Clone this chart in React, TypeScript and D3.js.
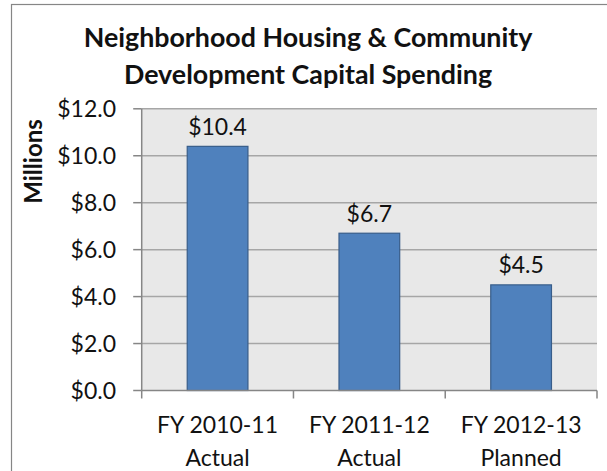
import React from "react";
import * as d3 from "d3";

const categories = ["FY 2010-11|Actual", "FY 2011-12|Actual", "FY 2012-13|Planned"];
const values = [10.4, 6.7, 4.5];
const yTicks = [0, 2, 4, 6, 8, 10, 12];
const titleLines = ["Neighborhood Housing & Community", "Development Capital Spending"];
const yAxisTitle = "Millions";

const W = 607;
const H = 471;
const FONT = "Lato, 'Open Sans', sans-serif";

export default function App() {
  const left = 141.7;
  const right = 597;
  const top = 108.8;
  const bottom = 390.5;

  const x = d3.scaleBand<string>().domain(categories).range([left, right]).paddingInner(0.6).paddingOuter(0.3);
  const y = d3.scaleLinear().domain([0, 12]).range([bottom, top]);
  const fmt = (v: number) => "$" + d3.format(".1f")(v);

  const step = x.step();
  const boundaries = d3.range(categories.length + 1).map((i) => left + i * step);

  return (
    <svg width={W} height={H} style={{ position: "absolute", left: 0, top: 0, background: "#fff" }}>
      <rect x={11.5} y={4.5} width={700} height={600} fill="#fff" stroke="#868686" strokeWidth={1.2} />
      <text textAnchor="middle" fontFamily={FONT} fontWeight="bold" fontSize={26.8} fill="#111">
        {titleLines.map((t, i) => (
          <tspan key={i} x={308} y={47 + i * 37}>{t}</tspan>
        ))}
      </text>
      <rect x={left} y={top} width={right - left} height={bottom - top} fill="#e8e8e8" />
      {yTicks.filter((t) => t > 0).map((t) => (
        <line key={t} x1={left} x2={right} y1={y(t)} y2={y(t)} stroke="#a6a6a6" strokeWidth={1.5} />
      ))}
      {categories.map((c, i) => (
        <rect
          key={c}
          x={x(c)}
          y={y(values[i])}
          width={x.bandwidth()}
          height={y(0) - y(values[i])}
          fill="#4f81bd"
          stroke="#385d8a"
          strokeWidth={1.2}
        />
      ))}
      <line x1={left} x2={left} y1={top} y2={bottom} stroke="#868686" strokeWidth={1.5} />
      <line x1={left} x2={right} y1={bottom} y2={bottom} stroke="#868686" strokeWidth={1.5} />
      {yTicks.map((t) => (
        <g key={t}>
          <line x1={left - 8.5} x2={left} y1={y(t)} y2={y(t)} stroke="#868686" strokeWidth={1.5} />
          <text x={116} y={y(t) + 8} textAnchor="end" fontFamily={FONT} fontSize={23} fill="#111">
            {fmt(t)}
          </text>
        </g>
      ))}
      {boundaries.map((b, i) => (
        <line key={i} x1={b} x2={b} y1={bottom} y2={bottom + 8} stroke="#868686" strokeWidth={1.5} />
      ))}
      {categories.map((c) => {
        const cx = (x(c) as number) + x.bandwidth() / 2;
        const [l1, l2] = c.split("|");
        return (
          <text key={c} textAnchor="middle" fontFamily={FONT} fontSize={23} fill="#111">
            <tspan x={cx} y={433.3}>{l1}</tspan>
            <tspan x={cx} y={466}>{l2}</tspan>
          </text>
        );
      })}
      {categories.map((c, i) => (
        <text
          key={c}
          x={(x(c) as number) + x.bandwidth() / 2}
          y={y(values[i]) - 11.5}
          textAnchor="middle"
          fontFamily={FONT}
          fontSize={23}
          fill="#111"
        >
          {fmt(values[i])}
        </text>
      ))}
      <text
        transform={`translate(41.5, 161.5) rotate(-90)`}
        textAnchor="middle"
        fontFamily={FONT}
        fontWeight="bold"
        fontSize={24}
        fill="#111"
      >
        {yAxisTitle}
      </text>
    </svg>
  );
}
